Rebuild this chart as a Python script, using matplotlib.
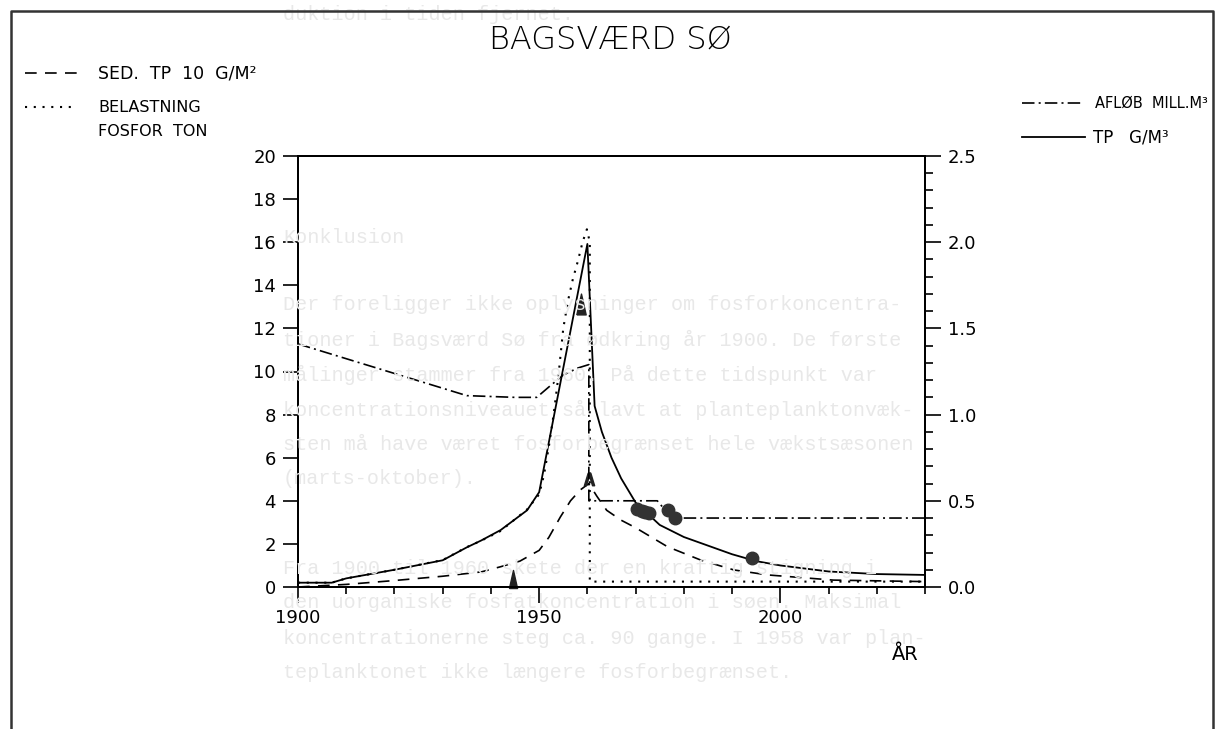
import numpy as np
import matplotlib.pyplot as plt
from matplotlib.lines import Line2D
from matplotlib.ticker import MultipleLocator, FixedLocator

# TP g/m3 (right axis)
tp_year = [1900, 1907, 1910, 1920, 1930, 1935, 1938, 1942, 1947.5, 1950, 1960,
           1961.5, 1963, 1965, 1967, 1970, 1975, 1980, 1985, 1990, 1995, 2000,
           2010, 2020, 2030]
tp_val = [0.025, 0.025, 0.05, 0.10, 0.155, 0.23, 0.27, 0.33, 0.445, 0.55, 1.99,
          1.05, 0.90, 0.75, 0.63, 0.49, 0.36, 0.29, 0.24, 0.19, 0.15, 0.125,
          0.09, 0.075, 0.07]

# measured TP (right axis)
obs_year = [1970.3, 1971.3, 1972.0, 1972.8, 1976.7, 1978.1, 1994.2]
obs_val = [0.45, 0.44, 0.435, 0.43, 0.445, 0.40, 0.17]

# afloeb mill. m3 (right axis)
q_year = [1900, 1935, 1945, 1949.5, 1952, 1955, 1958, 1960.3, 1960.3, 1974.5,
          1977.5, 2030]
q_val = [1.41, 1.11, 1.10, 1.10, 1.16, 1.23, 1.27, 1.29, 0.50, 0.50, 0.40, 0.40]

# belastning fosfor ton (left axis)
load_year = [1900, 1907, 1910, 1920, 1930, 1935, 1938, 1942, 1947.5, 1950, 1951,
             1952, 1953, 1954, 1955, 1956, 1957, 1958, 1959, 1959.9, 1960.5,
             1960.5, 2030]
load_val = [0.2, 0.2, 0.4, 0.8, 1.25, 1.85, 2.15, 2.6, 3.6, 4.3, 5.2,
            6.5, 8.0, 9.8, 12.0, 13.3, 14.3, 15.1, 16.0, 16.6, 16.0,
            0.25, 0.25]

# sed. TP 10 g/m2 (left axis)
sed_year = [1900, 1910, 1920, 1930, 1938, 1942, 1946, 1950, 1952, 1954.4,
            1956.5, 1958.5, 1960.3, 1962, 1964, 1967, 1970, 1976.6, 1983.5,
            1990.4, 1997.4, 2011, 2030]
sed_val = [0.0, 0.12, 0.3, 0.5, 0.7, 0.94, 1.2, 1.7, 2.3, 3.25,
           4.0, 4.5, 4.8, 4.2, 3.56, 3.1, 2.75, 1.87, 1.25,
           0.79, 0.56, 0.32, 0.25]

# faint show-through text from the other side of the page
ghost_lines = [
    (14, "duktion i tiden fjernet."),
    (238, "Konklusion"),
    (305, "Der foreligger ikke oplysninger om fosforkoncentra-"),
    (340, "tioner i Bagsværd Sø fra ødkring år 1900. De første"),
    (375, "målinger stammer fra 1960. På dette tidspunkt var"),
    (410, "koncentrationsniveauet så lavt at planteplanktonvæk-"),
    (444, "sten må have været fosforbegrænset hele vækstsæsonen"),
    (479, "(marts-oktober)."),
    (568, "Fra 1900 til 1960 skete der en kraftig stigning i"),
    (603, "den uorganiske fosfatkoncentration i søen. Maksimal"),
    (638, "koncentrationerne steg ca. 90 gange. I 1958 var plan-"),
    (672, "teplanktonet ikke længere fosforbegrænset."),
]

W, H = 1216, 729


def fx(x):
    return x / W


def fy(y):
    return 1 - y / H


plt.rcParams['font.family'] = ['DejaVu Sans']
fig = plt.figure(figsize=(12.16, 7.29), dpi=100)

for y, s in ghost_lines:
    fig.text(fx(283), fy(y), s, fontsize=14.5, family='Liberation Mono',
             color='#e8e8e8', va='center', ha='left', zorder=0)

ax = fig.add_axes([fx(298), fy(587), fx(925) - fx(298), fy(156) - fy(587)])
ax.patch.set_alpha(0)
ax2 = ax.twinx()

ax.set_xlim(1900, 2030)
ax.set_ylim(0, 20)
ax2.set_ylim(0, 2.5)

ax.plot(load_year, load_val, color='black', lw=1.5, linestyle=(0, (1, 3.2)))
ax.plot(sed_year, sed_val, color='black', lw=1.2, linestyle=(0, (7, 5)))
ax2.plot(tp_year, tp_val, color='black', lw=1.3)
ax2.plot(q_year, q_val, color='black', lw=1.2, linestyle=(0, (7.5, 2.5, 1.2, 2.5)))
ax2.plot(obs_year, obs_val, 'o', color='#333333', ms=9)

tri = [(-0.45, -1), (0.45, -1), (0, 1), (-0.45, -1)]
ax.plot([1958.7], [13.15], marker=tri, ms=15, color='#222222', clip_on=False)
ax.plot([1944.6], [0.35], marker=tri, ms=13, color='#222222', clip_on=False)
ax.plot([1960.4], [5.0], marker=r'$\wedge$', ms=9, color='#222222')

for a in (ax, ax2):
    for sp in a.spines.values():
        sp.set_linewidth(1.4)

ax.xaxis.set_major_locator(FixedLocator([1900, 1950, 2000]))
ax.xaxis.set_minor_locator(MultipleLocator(10))
ax.yaxis.set_major_locator(MultipleLocator(2))
ax2.yaxis.set_major_locator(MultipleLocator(0.5))
ax2.yaxis.set_minor_locator(MultipleLocator(0.1))
ax2.yaxis.set_major_formatter(plt.FormatStrFormatter('%.1f'))

ax.tick_params(axis='x', which='major', length=11.5, width=1.2, labelsize=13, pad=4)
ax.tick_params(axis='x', which='minor', length=5, width=1.2)
ax.tick_params(axis='y', which='major', length=10.8, width=1.2, labelsize=13, pad=5)
ax2.tick_params(axis='y', which='major', length=11.5, width=1.2, labelsize=13, pad=5)
ax2.tick_params(axis='y', which='minor', length=5.8, width=1.2)

fig.text(fx(610), fy(40), 'BAGSVÆRD SØ', fontsize=23, fontweight='light',
         ha='center', va='center')
fig.text(fx(905), fy(655), 'ÅR', fontsize=14, ha='center', va='center')

# legend, left
fig.add_artist(Line2D([fx(25), fx(85)], [fy(73), fy(73)], color='black', lw=1.2,
                      linestyle=(0, (7, 5))))
fig.text(fx(98), fy(73), 'SED.  TP  10  G/M²', fontsize=12.5, va='center')
fig.add_artist(Line2D([fx(25), fx(77)], [fy(107), fy(107)], color='black', lw=1.5,
                      linestyle=(0, (1, 3.2))))
fig.text(fx(98), fy(107), 'BELASTNING', fontsize=11.5, va='center')
fig.text(fx(98), fy(131), 'FOSFOR  TON', fontsize=11.5, va='center')

# legend, right
fig.add_artist(Line2D([fx(1022), fx(1082)], [fy(103), fy(103)], color='black', lw=1.2,
                      linestyle=(0, (7.5, 2.5, 1.2, 2.5))))
fig.text(fx(1095), fy(103), 'AFLØB  MILL.M³', fontsize=10.5, va='center')
fig.add_artist(Line2D([fx(1022), fx(1085)], [fy(137), fy(137)], color='black', lw=1.3))
fig.text(fx(1093), fy(137), 'TP   G/M³', fontsize=12, va='center')

# page frame
fig.add_artist(Line2D([fx(11), fx(11), fx(1213), fx(1213)],
                      [fy(729), fy(11), fy(11), fy(729)], color='#333333', lw=1.8))

fig.savefig('out.png', dpi=100)
